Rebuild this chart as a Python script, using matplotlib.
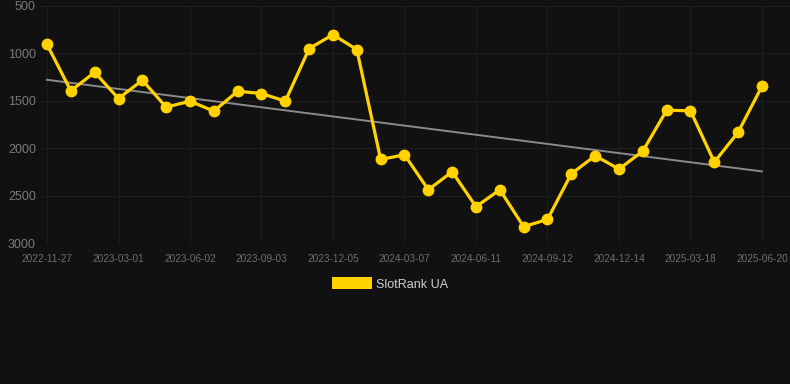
import numpy as np
import matplotlib
matplotlib.use('Agg')
import matplotlib.pyplot as plt
from matplotlib.patches import Patch

# rank values (lower is better, axis inverted)
ranks = [905, 1395, 1199, 1476, 1283, 1567, 1504, 1609, 1399, 1423,
         1504, 949, 802, 960, 2119, 2069, 2438, 2248, 2617, 2438,
         2828, 2751, 2270, 2080, 2220, 2031, 1599, 1606, 2147, 1831,
         1346]
date_labels = ['2022-11-27', '2023-03-01', '2023-06-02', '2023-09-03',
               '2023-12-05', '2024-03-07', '2024-06-11', '2024-09-12',
               '2024-12-14', '2025-03-18', '2025-06-20']
y_ticks = [500, 1000, 1500, 2000, 2500, 3000]
series_name = 'SlotRank UA'

bg = '#111111'
gold = '#FFD200'

plt.rcParams['font.family'] = ['Liberation Sans', 'DejaVu Sans']

fig = plt.figure(figsize=(7.9, 3.84), dpi=100, facecolor=bg)
ax = fig.add_axes([40 / 790, 141 / 384, 750 / 790, 237 / 384], facecolor=bg)

x = np.arange(len(ranks))
ax.plot(x, ranks, color=gold, lw=2.3, marker='o', markersize=7.5,
        zorder=3, solid_joinstyle='round')

# linear trend
k, b = np.polyfit(x, ranks, 1)
ax.plot(x, k * x + b, color='#8a8a8a', lw=1.4, zorder=2)

ax.set_ylim(3000, 500)
ax.set_xlim(-7 / 23.83, 30 + 28 / 23.83)
ax.set_yticks(y_ticks)
ax.set_xticks(x[::3])
ax.set_xticklabels(date_labels)

ax.grid(True, color='#1e1e1e', lw=0.8)
ax.set_axisbelow(True)
for s in ax.spines.values():
    s.set_visible(False)

ax.tick_params(axis='y', length=0, pad=3, labelsize=9, labelcolor='#7a7a7a')
ax.tick_params(axis='x', length=0, pad=8, labelsize=7.2, labelcolor='#6e6e6e')

fig.legend(handles=[Patch(facecolor=gold, edgecolor='none', label=series_name)],
           loc='center', bbox_to_anchor=(390 / 790, 1 - 284 / 384),
           frameon=False, fontsize=9, labelcolor='#d0d0d0',
           handlelength=3.2, handleheight=1.05, handletextpad=0.25)

fig.savefig('out.png', dpi=100, facecolor=bg)
